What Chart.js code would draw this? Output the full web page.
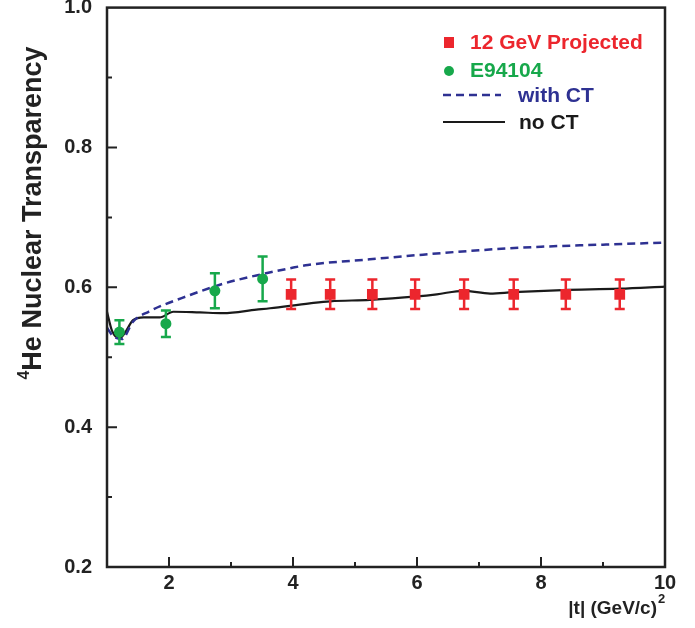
<!DOCTYPE html>
<html>
<head>
<meta charset="utf-8">
<script src="https://cdn.jsdelivr.net/npm/chart.js@4.4.1/dist/chart.umd.min.js"></script>
<style>
  html, body { margin: 0; padding: 0; background: #fff; }
  #grafico { display: block; }
</style>
</head>
<body>
<canvas id="grafico" width="695" height="628"></canvas>
<script>
// 12 GeV projected points
const tProj = [3.97, 4.60, 5.28, 5.97, 6.76, 7.56, 8.40, 9.27];
const transpProj = [0.590, 0.590, 0.590, 0.590, 0.590, 0.590, 0.590, 0.590];
const errProj = [0.021, 0.021, 0.021, 0.021, 0.021, 0.021, 0.021, 0.021];

// E94104 measured points
const tE94104 = [1.20, 1.95, 2.74, 3.51];
const transpE94104 = [0.536, 0.548, 0.595, 0.612];
const errE94104 = [0.017, 0.019, 0.025, 0.032];

// calculation without colour transparency
const tNoCT = [1.00, 1.08, 1.20, 1.29, 1.42, 1.59, 1.85, 2.07, 2.50, 2.87, 3.41, 3.63, 4.27, 4.60, 5.24, 6.00, 6.32, 6.75, 7.18, 7.55, 8.35, 9.27, 10.0];
const transpNoCT = [0.565, 0.538, 0.527, 0.535, 0.553, 0.557, 0.557, 0.565, 0.564, 0.563, 0.568, 0.570, 0.577, 0.580, 0.582, 0.587, 0.590, 0.595, 0.591, 0.593, 0.596, 0.598, 0.601];

// calculation with colour transparency
const tWithCT = [1.00, 1.10, 1.24, 1.42, 1.67, 2.34, 2.87, 3.41, 3.94, 4.24, 5.24, 6.00, 7.00, 8.00, 9.00, 10.0];
const transpWithCT = [0.542, 0.530, 0.526, 0.551, 0.565, 0.589, 0.605, 0.617, 0.627, 0.632, 0.640, 0.646, 0.653, 0.658, 0.661, 0.664];

const xTicks = [2, 4, 6, 8, 10];
const yTicks = [0.2, 0.4, 0.6, 0.8, 1.0];

const vermelho = '#ec262d';
const verde = '#17a84b';
const azul = '#2e3192';
const preto = '#1a1a1a';
const fonte = '"Liberation Sans", Arial, Helvetica, sans-serif';

function pares(xs, ys) {
  return xs.map(function(x, i) { return { x: x, y: ys[i] }; });
}

// barras de erro, desenhadas logo antes dos marcadores
function barrasErro(ctx, xs, ys, errs, sx, sy, cor, cap) {
  ctx.save();
  ctx.strokeStyle = cor;
  ctx.lineWidth = 2.5;
  xs.forEach(function(t, i) {
    const px = sx.getPixelForValue(t);
    const top = sy.getPixelForValue(ys[i] + errs[i]);
    const bot = sy.getPixelForValue(ys[i] - errs[i]);
    ctx.beginPath();
    ctx.moveTo(px, top); ctx.lineTo(px, bot);
    ctx.moveTo(px - cap, top); ctx.lineTo(px + cap, top);
    ctx.moveTo(px - cap, bot); ctx.lineTo(px + cap, bot);
    ctx.stroke();
  });
  ctx.restore();
}

function semPadding(s) {
  s.paddingTop = 0;
  s.paddingBottom = 0;
  s.paddingLeft = 0;
  s.paddingRight = 0;
}

const decoracao = {
  id: 'decoracao',
  beforeDatasetDraw(chart, args) {
    const { ctx, scales: { x, y } } = chart;
    if (args.index === 0) barrasErro(ctx, tProj, transpProj, errProj, x, y, vermelho, 5);
    if (args.index === 1) barrasErro(ctx, tE94104, transpE94104, errE94104, x, y, verde, 5);
  },
  afterDraw(chart) {
    const { ctx, chartArea: a, scales: { x, y } } = chart;
    ctx.save();

    // moldura
    ctx.strokeStyle = '#222';
    ctx.lineWidth = 2.5;
    ctx.strokeRect(a.left, a.top, a.right - a.left, a.bottom - a.top);

    // marcas dos eixos (para dentro)
    ctx.lineWidth = 2;
    ctx.beginPath();
    for (let v = 2; v < 10; v++) {
      const px = x.getPixelForValue(v);
      const len = v % 2 === 0 ? 10 : 5;
      ctx.moveTo(px, a.bottom); ctx.lineTo(px, a.bottom - len);
    }
    for (let k = 3; k < 10; k++) {
      const py = y.getPixelForValue(k / 10);
      const len = k % 2 === 0 ? 10 : 5;
      ctx.moveTo(a.left, py); ctx.lineTo(a.left + len, py);
    }
    ctx.stroke();

    // título do eixo y
    ctx.fillStyle = '#222';
    ctx.save();
    ctx.translate(41, 213);
    ctx.rotate(-Math.PI / 2);
    ctx.font = 'bold 27px ' + fonte;
    const titulo = 'He Nuclear Transparency';
    const w = ctx.measureText(titulo).width;
    ctx.font = 'bold 16px ' + fonte;
    const w4 = ctx.measureText('4').width;
    const x0 = -(w + w4) / 2;
    ctx.textBaseline = 'alphabetic';
    ctx.fillText('4', x0, -12);
    ctx.font = 'bold 27px ' + fonte;
    ctx.fillText(titulo, x0 + w4, 0);
    ctx.restore();

    // título do eixo x
    ctx.font = 'bold 19px ' + fonte;
    ctx.textBaseline = 'alphabetic';
    const xt = '|t| (GeV/c)';
    const wx = ctx.measureText(xt).width;
    ctx.fillText(xt, 657 - wx, 614);
    ctx.font = 'bold 13px ' + fonte;
    ctx.fillText('2', 658, 603);

    // legenda
    ctx.font = 'bold 21px ' + fonte;
    ctx.textBaseline = 'middle';
    ctx.fillStyle = vermelho;
    ctx.fillRect(444, 37, 10, 11);
    ctx.fillText('12 GeV Projected', 470, 43);
    ctx.fillStyle = verde;
    ctx.beginPath(); ctx.arc(449, 71, 5, 0, Math.PI * 2); ctx.fill();
    ctx.fillText('E94104', 470, 71);
    ctx.strokeStyle = azul;
    ctx.lineWidth = 2.5;
    ctx.setLineDash([8, 5]);
    ctx.beginPath(); ctx.moveTo(443, 95); ctx.lineTo(501, 95); ctx.stroke();
    ctx.setLineDash([]);
    ctx.fillStyle = azul;
    ctx.fillText('with CT', 518, 96);
    ctx.strokeStyle = preto;
    ctx.lineWidth = 2.2;
    ctx.beginPath(); ctx.moveTo(443, 122); ctx.lineTo(505, 122); ctx.stroke();
    ctx.fillStyle = preto;
    ctx.fillText('no CT', 519, 123);

    ctx.restore();
  }
};

const ctx = document.getElementById('grafico').getContext('2d');
const grafico = new Chart(ctx, {
  type: 'scatter',
  data: {
    datasets: [
      {
        label: '12 GeV Projected',
        data: pares(tProj, transpProj),
        pointStyle: 'rect',
        pointRadius: 7.6,
        pointBackgroundColor: vermelho,
        pointBorderWidth: 0,
        showLine: false
      },
      {
        label: 'E94104',
        data: pares(tE94104, transpE94104),
        pointStyle: 'circle',
        pointRadius: 5.5,
        pointBackgroundColor: verde,
        pointBorderWidth: 0,
        showLine: false
      },
      {
        label: 'with CT',
        data: pares(tWithCT, transpWithCT),
        showLine: true,
        borderColor: azul,
        borderWidth: 2.5,
        borderDash: [8, 5],
        pointRadius: 0,
        cubicInterpolationMode: 'monotone'
      },
      {
        label: 'no CT',
        data: pares(tNoCT, transpNoCT),
        showLine: true,
        borderColor: preto,
        borderWidth: 2.2,
        pointRadius: 0,
        cubicInterpolationMode: 'monotone'
      }
    ]
  },
  options: {
    responsive: false,
    animation: false,
    devicePixelRatio: 1,
    layout: { padding: { left: 0, right: 30, top: 7, bottom: 0 } },
    plugins: { legend: { display: false }, tooltip: { enabled: false } },
    scales: {
      x: {
        type: 'linear',
        min: 1,
        max: 10,
        grid: { display: false, drawTicks: false },
        border: { display: false },
        afterFit: function(s) { s.height = 61; semPadding(s); },
        afterBuildTicks: function(s) { s.ticks = xTicks.map(function(v) { return { value: v }; }); },
        ticks: {
          color: '#222',
          padding: 4,
          maxRotation: 0,
          font: { family: fonte, size: 20, weight: 'bold' },
          callback: function(v) { return String(v); }
        }
      },
      y: {
        type: 'linear',
        min: 0.2,
        max: 1.0,
        grid: { display: false, drawTicks: false },
        border: { display: false },
        afterFit: function(s) { s.width = 107; semPadding(s); },
        afterBuildTicks: function(s) { s.ticks = yTicks.map(function(v) { return { value: v }; }); },
        ticks: {
          color: '#222',
          padding: 15,
          font: { family: fonte, size: 20, weight: 'bold' },
          callback: function(v) { return v.toFixed(1); }
        }
      }
    }
  },
  plugins: [decoracao]
});
</script>
</body>
</html>
